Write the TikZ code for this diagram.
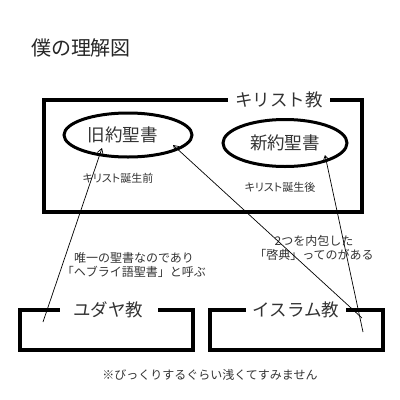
\documentclass[tikz,border=0pt]{standalone}
\usepackage{fontspec}
\setmainfont{Noto Sans CJK JP}
\newfontfamily\jpp[RawFeature=+palt]{Noto Sans CJK JP}
\usetikzlibrary{arrows.meta,shapes.geometric}
\begin{document}
\begin{tikzpicture}[x=1pt,y=-1pt,
  frame/.style={draw, line width=4pt, rectangle, inner sep=0pt},
  bubble/.style={draw, line width=3pt, ellipse, inner sep=0pt, font=\fontsize{17.5}{20}\selectfont, text=black!80},
  tag/.style={fill=white, font=\fontsize{17.5}{20}\selectfont, text=black!80, inner ysep=1pt},
  small/.style={font=\jpp\fontsize{11}{13}\selectfont, text=black!80},
  note/.style={font=\fontsize{12}{14}\selectfont, text=black!80, align=center},
  link/.style={draw, line width=0.7pt, -{Straight Barb[length=5pt, width=6pt]}}]
\useasboundingbox (0,0) rectangle (400,400);
\fill[white] (0,0) rectangle (400,400);

\node[font=\fontsize{20}{22}\selectfont, text=black!85] (title) at (81,48) {僕の理解図};

\node[frame, minimum width=318, minimum height=112] (xt) at (203,156) {};
\node[tag, inner xsep=7pt] (xtl) at (279,100) {キリスト教};

\node[bubble, minimum width=128, minimum height=44] (old) at (128,135) {旧約聖書\hspace*{10pt}};
\node[bubble, minimum width=124, minimum height=47] (new) at (285,143) {新約聖書};

\node[small] (before) at (118,178) {キリスト誕生前};
\node[small] (after) at (280,187) {キリスト誕生後};

\node[frame, minimum width=173, minimum height=40] (jud) at (106.5,330) {};
\node[tag, inner xsep=14pt] (judl) at (108.5,310) {ユダヤ教};
\node[frame, minimum width=173, minimum height=40] (isl) at (296.5,330) {};
\node[tag, inner xsep=7pt] (isll) at (296,310) {イスラム教};

\node[note] (n1) at (134,265) {唯一の聖書なのであり\\「ヘブライ語聖書」と呼ぶ};
\node[note] (n2) at (314,248) {2つを内包した\\「啓典」ってのがある};

\node[note] (foot) at (210,375) {※びっくりするぐらい浅くてすみません};

\coordinate (jt) at (43,322);
\coordinate (jh) at (102,148);
\coordinate (it1) at (362,318);
\coordinate (ih1) at (173,145);
\coordinate (it2) at (363,332);
\coordinate (ih2) at (325,155);
\draw[link] (jt) -- (jh);
\draw[link] (it1) -- (ih1);
\draw[link] (it2) -- (ih2);
\end{tikzpicture}
\end{document}
